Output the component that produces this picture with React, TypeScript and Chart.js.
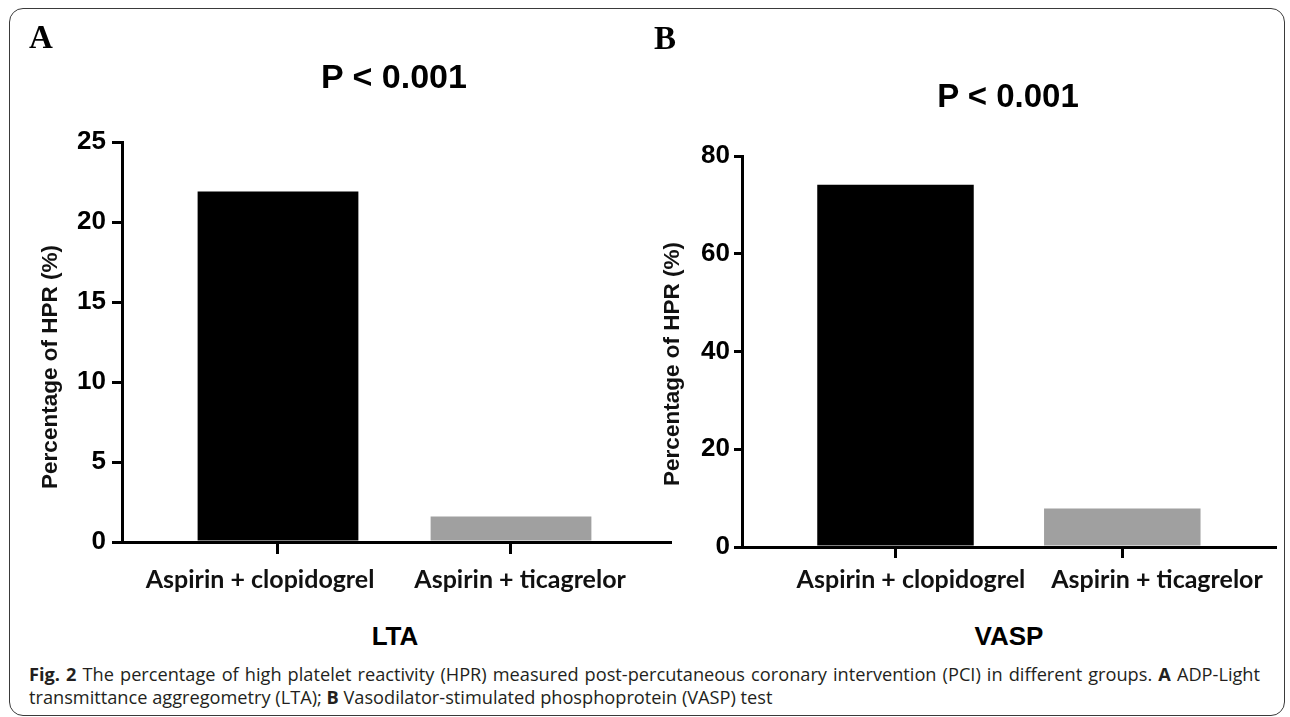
import React, { useEffect, useRef } from 'react';
import { Chart, registerables } from 'chart.js';

Chart.register(...registerables);

// ---- data ----
const categories = ['Aspirin + clopidogrel', 'Aspirin + ticagrelor'];
const ltaValues = [21.9, 1.6];
const vaspValues = [74.1, 7.9];
const ltaTicks = [0, 5, 10, 15, 20, 25];
const vaspTicks = [0, 20, 40, 60, 80];
const barColors = ['#000000', '#a0a0a0'];
const pValueText = 'P < 0.001';
const yAxisTitle = 'Percentage of HPR (%)';
const panelNames = ['LTA', 'VASP'];
const panelLetters = ['A', 'B'];

const SANS = '"Liberation Sans", Arial, sans-serif';
const LATO = 'Lato, "Open Sans", sans-serif';
const CAP = '"Open Sans", Lato, sans-serif';

type PanelProps = {
  values: number[];
  yTicks: number[];
  left: number;
  width: number;
  height: number;
  yWidth: number;
  padTop: number;
  padRight: number;
  xMin: number;
  xMax: number;
  labelShift: number[];
  yTickLen: number;
  yTickPad: number;
  xTickLen: number;
  xLabelPad: number;
};

function BarPanel(p: PanelProps) {
  const ref = useRef<HTMLCanvasElement | null>(null);
  useEffect(() => {
    if (!ref.current) return;
    const chart = new Chart(ref.current, {
      type: 'bar',
      data: {
        datasets: [
          {
            data: p.values.map((v, i) => ({ x: i, y: v })),
            backgroundColor: barColors,
            borderWidth: 0,
            categoryPercentage: 1,
            barPercentage: 0.69,
          } as any,
        ],
      },
      options: {
        animation: false,
        responsive: false,
        maintainAspectRatio: false,
        layout: { padding: { left: 0, top: p.padTop, right: p.padRight, bottom: 0 } },
        plugins: {
          legend: { display: false },
          tooltip: { enabled: false },
          title: { display: false },
        },
        scales: {
          // axis line + tick marks at the category centres
          x: {
            type: 'linear',
            position: 'bottom',
            weight: 0,
            min: p.xMin,
            max: p.xMax,
            bounds: 'data',
            offset: false,
            grid: {
              display: true,
              offset: false,
              drawOnChartArea: false,
              drawTicks: true,
              tickLength: p.xTickLen,
              color: '#000',
              lineWidth: 3,
            },
            border: { display: true, color: '#000', width: 3 },
            afterBuildTicks: (s: any) => {
              s.ticks = categories.map((_, i) => ({ value: i }));
            },
            afterFit: (s: any) => {
              s.height = 13;
            },
            ticks: { display: false },
          },
          // category labels
          xLabels: {
            type: 'linear',
            position: 'bottom',
            weight: 1,
            min: p.xMin,
            max: p.xMax,
            bounds: 'data',
            offset: false,
            grid: { display: false, drawTicks: false, drawOnChartArea: false },
            border: { display: false },
            afterBuildTicks: (s: any) => {
              s.ticks = categories.map((_, i) => ({ value: i + p.labelShift[i] }));
            },
            afterFit: (s: any) => {
              s.height = 47;
            },
            ticks: {
              autoSkip: false,
              maxRotation: 0,
              minRotation: 0,
              padding: p.xLabelPad,
              color: '#111',
              font: { family: LATO, weight: 'bold', size: 25 },
              callback: (_v: any, idx: number) => categories[idx] ?? '',
            },
          },
          y: {
            type: 'linear',
            min: p.yTicks[0],
            max: p.yTicks[p.yTicks.length - 1],
            grid: {
              display: true,
              offset: false,
              drawOnChartArea: false,
              drawTicks: true,
              tickLength: p.yTickLen,
              color: '#000',
              lineWidth: 3,
            },
            border: { display: true, color: '#000', width: 3 },
            afterBuildTicks: (s: any) => {
              s.ticks = p.yTicks.map((v) => ({ value: v }));
            },
            afterFit: (s: any) => {
              s.width = p.yWidth;
            },
            ticks: {
              padding: p.yTickPad,
              color: '#000',
              font: { family: SANS, weight: 'bold', size: 26 },
            },
          },
        },
      } as any,
    });
    return () => chart.destroy();
  }, []);
  return (
    <canvas
      ref={ref}
      width={p.width}
      height={p.height}
      style={{ position: 'absolute', left: p.left, top: 0, width: p.width, height: p.height }}
    />
  );
}

const BASE: Record<string, number> = { sans: 0.8465, serif: 0.8375, lato: 0.887 };

function Txt(props: {
  x: number;
  y: number;
  size: number;
  kind: 'sans' | 'serif' | 'lato';
  bold?: boolean;
  center?: boolean;
  children: React.ReactNode;
  style?: React.CSSProperties;
}) {
  const fam =
    props.kind === 'sans' ? SANS : props.kind === 'serif' ? '"Liberation Serif", "Times New Roman", serif' : LATO;
  return (
    <div
      style={{
        position: 'absolute',
        left: props.x,
        top: props.y - BASE[props.kind] * props.size,
        fontFamily: fam,
        fontSize: props.size,
        fontWeight: props.bold ? 700 : 400,
        lineHeight: 1,
        whiteSpace: 'nowrap',
        color: '#000',
        transform: props.center ? 'translateX(-50%)' : undefined,
        ...props.style,
      }}
    >
      {props.children}
    </div>
  );
}

function YTitle({ cx, cy, size }: { cx: number; cy: number; size: number }) {
  return (
    <div
      style={{
        position: 'absolute',
        left: cx,
        top: cy,
        transform: 'translate(-50%, -50%) rotate(-90deg)',
        fontFamily: SANS,
        fontWeight: 700,
        fontSize: size,
        lineHeight: 1,
        whiteSpace: 'nowrap',
        color: '#111',
      }}
    >
      {yAxisTitle}
    </div>
  );
}

export default function App() {
  const capSize = 18.2;
  return (
    <div
      style={{
        position: 'absolute',
        left: 0,
        top: 0,
        width: 1290,
        height: 717,
        background: '#fff',
        overflow: 'hidden',
      }}
    >
      <div
        style={{
          position: 'absolute',
          left: 9,
          top: 8,
          width: 1276,
          height: 708,
          border: '1.5px solid #3a3a3a',
          borderRadius: 14,
          boxSizing: 'border-box',
        }}
      />
      <BarPanel
        values={ltaValues}
        yTicks={ltaTicks}
        left={0}
        width={690}
        height={602}
        yWidth={122}
        padTop={142}
        padRight={20}
        xMin={-0.6695}
        xMax={1.6824}
        labelShift={[-0.077, 0.039]}
        yTickLen={10}
        yTickPad={6}
        xTickLen={12}
        xLabelPad={10}
      />
      <BarPanel
        values={vaspValues}
        yTicks={vaspTicks}
        left={640}
        width={650}
        height={607}
        yWidth={102}
        padTop={156}
        padRight={15}
        xMin={-0.6768}
        xMax={1.6733}
        labelShift={[0.068, 0.153]}
        yTickLen={8}
        yTickPad={4}
        xTickLen={11}
        xLabelPad={5}
      />

      <Txt x={29} y={49} size={33} kind="serif" bold>
        {panelLetters[0]}
      </Txt>
      <Txt x={654} y={50} size={33} kind="serif" bold>
        {panelLetters[1]}
      </Txt>

      <Txt x={394} y={88} size={34} kind="sans" bold center>
        {pValueText}
      </Txt>
      <Txt x={1008} y={107} size={33} kind="sans" bold center>
        {pValueText}
      </Txt>

      <YTitle cx={50.4} cy={366.5} size={22.5} />
      <YTitle cx={672} cy={363.5} size={22.5} />

      <Txt x={395} y={645} size={26} kind="sans" bold center>
        {panelNames[0]}
      </Txt>
      <Txt x={1009} y={645} size={26} kind="sans" bold center>
        {panelNames[1]}
      </Txt>

      <div
        style={{
          position: 'absolute',
          left: 29,
          top: 681 - 0.888 * capSize,
          width: 1231,
          fontFamily: CAP,
          fontSize: capSize,
          lineHeight: 1,
          color: '#231f20',
          textAlign: 'justify',
          textAlignLast: 'justify' as any,
        }}
      >
        <b>Fig. 2</b> The percentage of high platelet reactivity (HPR) measured post-percutaneous coronary
        intervention (PCI) in different groups. <b>A</b> ADP-Light
      </div>
      <div
        style={{
          position: 'absolute',
          left: 29,
          top: 704 - 0.888 * capSize,
          fontFamily: CAP,
          fontSize: capSize,
          lineHeight: 1,
          whiteSpace: 'nowrap',
          color: '#231f20',
        }}
      >
        transmittance aggregometry (LTA); <b>B</b> Vasodilator-stimulated phosphoprotein (VASP) test
      </div>
    </div>
  );
}
